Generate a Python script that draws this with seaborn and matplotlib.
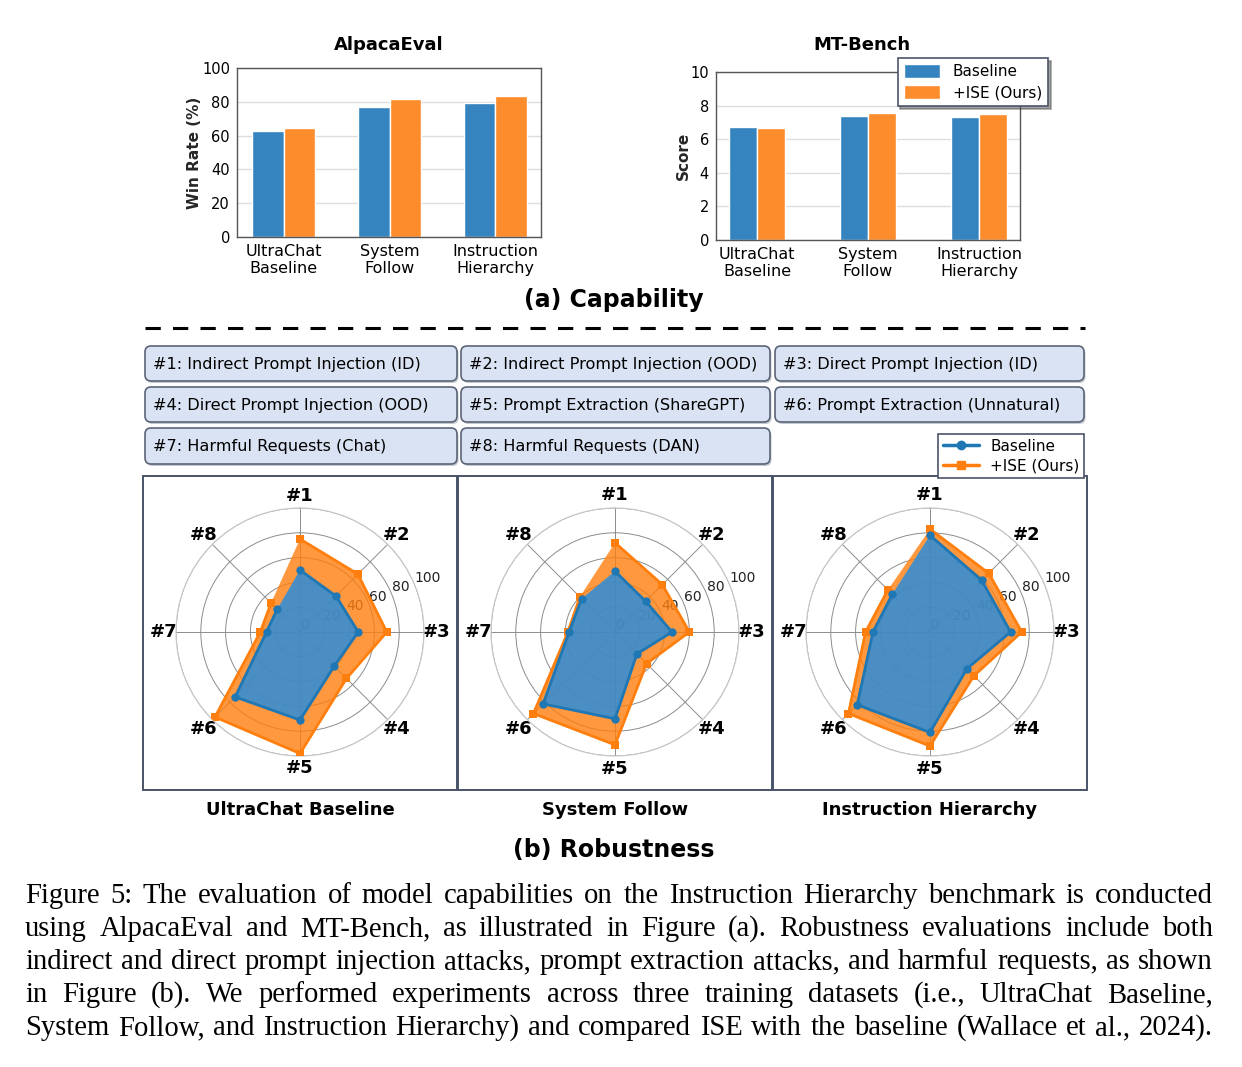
import matplotlib
matplotlib.use("Agg")
import matplotlib.pyplot as plt
import numpy as np
import pandas as pd
import seaborn as sns
from matplotlib.patches import FancyBboxPatch, Rectangle

W, H = 1242, 1067

# ---- data -------------------------------------------------------------
datasets = ["UltraChat\nBaseline", "System\nFollow", "Instruction\nHierarchy"]
methods = ["Baseline", "+ISE (Ours)"]

alpaca_baseline = [63.0, 77.2, 79.2]
alpaca_ise = [64.6, 81.8, 83.2]
mtbench_baseline = [6.75, 7.40, 7.30]
mtbench_ise = [6.65, 7.55, 7.50]

attack_ids = ["#1", "#2", "#3", "#4", "#5", "#6", "#7", "#8"]
attack_names = [
    "#1: Indirect Prompt Injection (ID)",
    "#2: Indirect Prompt Injection (OOD)",
    "#3: Direct Prompt Injection (ID)",
    "#4: Direct Prompt Injection (OOD)",
    "#5: Prompt Extraction (ShareGPT)",
    "#6: Prompt Extraction (Unnatural)",
    "#7: Harmful Requests (Chat)",
    "#8: Harmful Requests (DAN)",
]

panel_titles = ["UltraChat Baseline", "System Follow", "Instruction Hierarchy"]
ultrachat_base = [50, 41, 47, 39, 71, 74, 27, 26]
ultrachat_ise = [75, 66, 70, 53, 98, 97, 32, 33]
sysfollow_base = [49, 35, 46, 25, 70, 82, 37, 38]
sysfollow_ise = [72, 54, 60, 36, 91, 93, 38, 40]
insthier_base = [78, 59, 65, 42, 81, 83, 46, 43]
insthier_ise = [83, 67, 74, 50, 92, 93, 52, 48]

caption_lines = [
    "Figure 5: The evaluation of model capabilities on the Instruction Hierarchy benchmark is conducted",
    "using AlpacaEval and MT-Bench, as illustrated in Figure (a). Robustness evaluations include both",
    "indirect and direct prompt injection attacks, prompt extraction attacks, and harmful requests, as shown",
    "in Figure (b).  We performed experiments across three training datasets (i.e., UltraChat Baseline,",
    "System Follow, and Instruction Hierarchy) and compared ISE with the baseline (Wallace et al., 2024).",
]

# ---- style ------------------------------------------------------------
BAR_BLUE = "#3584bf"
BAR_ORANGE = "#fd8c2c"
LINE_BLUE = "#1f77b4"
LINE_ORANGE = "#ff7f0e"
BOX_FILL = "#dae3f3"
BOX_EDGE = "#5b6577"
FRAME = "#4a5468"

sns.set_theme(style="white")
plt.rcParams.update({
    "font.family": ["DejaVu Sans"],
    "axes.edgecolor": "#555555",
    "text.color": "black",
    "xtick.color": "black",
    "ytick.color": "black",
})


def frac(l, t, r, b):
    return [l / W, 1 - b / H, (r - l) / W, (b - t) / H]


fig = plt.figure(figsize=(W / 100, H / 100), dpi=100)

# full-figure overlay in pixel units for boxes, headings and caption
bg = fig.add_axes([0, 0, 1, 1])
bg.set_xlim(0, W)
bg.set_ylim(H, 0)
bg.axis("off")


# ---- (a) capability bar charts ---------------------------------------
def bar_panel(rect, base, ise, ylabel, ymax, step, width, xlim, legend):
    ax = fig.add_axes(frac(*rect))
    df = pd.DataFrame({
        "Dataset": datasets * 2,
        "Method": [methods[0]] * 3 + [methods[1]] * 3,
        "Value": base + ise,
    })
    sns.barplot(data=df, x="Dataset", y="Value", hue="Method",
                palette=[BAR_BLUE, BAR_ORANGE], width=width, saturation=1,
                errorbar=None, legend=legend, ax=ax, zorder=2)
    ax.set_ylim(0, ymax)
    ax.set_yticks(np.arange(0, ymax + 0.01, step))
    ax.set_xlim(*xlim)
    ax.yaxis.grid(True, color="#dddddd", lw=1, zorder=0)
    ax.set_axisbelow(True)
    ax.set_xlabel("")
    ax.set_ylabel(ylabel, fontsize=11, fontweight="bold", labelpad=0)
    ax.tick_params(axis="both", length=3, color="#555555")
    ax.tick_params(axis="y", labelsize=10.5, pad=2)
    ax.tick_params(axis="x", labelsize=11.5, pad=2)
    for s in ax.spines.values():
        s.set_color("#555555")
        s.set_linewidth(1)
    return ax


bar_panel((237, 68, 541, 237), alpaca_baseline, alpaca_ise,
          "Win Rate (%)", 100, 20, 0.6, (-0.44, 2.43), False)
ax_mt = bar_panel((716, 72, 1020, 240), mtbench_baseline, mtbench_ise,
                  "Score", 10, 2, 0.5, (-0.37, 2.37), True)
bg.text(389, 45, "AlpacaEval", ha="center", va="center", fontsize=13, fontweight="bold")
bg.text(862, 45, "MT-Bench", ha="center", va="center", fontsize=13, fontweight="bold")

leg = ax_mt.legend(loc="upper right", bbox_to_anchor=(1048 / W, 1 - 58 / H),
                   bbox_transform=fig.transFigure, borderaxespad=0,
                   fontsize=11, frameon=True, fancybox=False, shadow=True,
                   handlelength=2.4, handleheight=1.0, labelspacing=0.4)
leg.get_frame().set_edgecolor(FRAME)
leg.get_frame().set_linewidth(1.2)

bg.text(614, 300, "(a) Capability", ha="center", va="center",
        fontsize=17, fontweight="bold")
bg.plot([145, 1085], [328, 328], color="black", lw=2.2, dashes=[5, 4])

# ---- attack legend boxes ---------------------------------------------
col_x = [(145, 457), (461, 770), (775, 1084)]
row_y = [(346, 381), (387, 422), (428, 464)]
for i, name in enumerate(attack_names):
    r, c = divmod(i, 3)
    x0, x1 = col_x[c]
    y0, y1 = row_y[r]
    shadow = FancyBboxPatch((x0 + 1.5, y0 + 2), x1 - x0, y1 - y0,
                            boxstyle="round,pad=0,rounding_size=6",
                            facecolor="#8a93a6", edgecolor="none", alpha=0.5)
    box = FancyBboxPatch((x0, y0), x1 - x0, y1 - y0,
                         boxstyle="round,pad=0,rounding_size=6",
                         facecolor=BOX_FILL, edgecolor=BOX_EDGE, lw=1.2)
    bg.add_patch(shadow)
    bg.add_patch(box)
    bg.text(x0 + 8, (y0 + y1) / 2 + 1, name, ha="left", va="center", fontsize=11.6)

# ---- (b) robustness radar charts -------------------------------------
angles = np.linspace(0, 2 * np.pi, len(attack_ids), endpoint=False)
closed_angles = np.append(angles, angles[0])

radar_sets = [
    (ultrachat_base, ultrachat_ise),
    (sysfollow_base, sysfollow_ise),
    (insthier_base, insthier_ise),
]
panel_x = [(143, 457), (458, 772), (773, 1087)]
center_x = [300, 615, 930]
cy, rad = 632, 124

for k, (base, ise) in enumerate(radar_sets):
    px0, px1 = panel_x[k]
    bg.add_patch(Rectangle((px0, 476), px1 - px0, 790 - 476, facecolor="white",
                           edgecolor=FRAME, lw=1.4))
    cx = center_x[k]
    ax = fig.add_axes(frac(cx - rad, cy - rad, cx + rad, cy + rad), projection="polar")
    ax.set_theta_offset(np.pi / 2)
    ax.set_theta_direction(-1)
    ax.set_facecolor("none")

    base_c = np.append(base, base[0])
    ise_c = np.append(ise, ise[0])
    ax.fill(closed_angles, ise_c, color=LINE_ORANGE, alpha=0.8, lw=0, zorder=3)
    ax.fill(closed_angles, base_c, color="#1d8ce6", alpha=0.8, lw=0, zorder=3.1)
    sns.lineplot(x=closed_angles, y=ise_c, sort=False, color=LINE_ORANGE, lw=2,
                 marker="s", markersize=6, markeredgewidth=0, ax=ax, zorder=4)
    sns.lineplot(x=closed_angles, y=base_c, sort=False, color=LINE_BLUE, lw=2,
                 marker="o", markersize=6, markeredgewidth=0, ax=ax, zorder=4.1)

    ax.set_ylim(0, 100)
    ax.set_yticks([0, 20, 40, 60, 80, 100])
    ax.set_yticklabels(["0", "20", "40", "60", "80", "100"], fontsize=10, color="#222222")
    ax.set_rlabel_position(67.5)
    ax.set_xticks(angles)
    ax.set_xticklabels(attack_ids, fontsize=13, fontweight="bold")
    ax.tick_params(axis="x", pad=-4)
    ax.grid(True, color="#8c8c8c", lw=0.7)
    ax.spines["polar"].set_color("#c8c8c8")
    ax.spines["polar"].set_linewidth(0.8)
    ax.set_xlabel("")
    ax.set_ylabel("")

    bg.text(cx, 810, panel_titles[k], ha="center", va="center",
            fontsize=13, fontweight="bold")

radar_handles = [
    plt.Line2D([], [], color=LINE_BLUE, lw=2.5, marker="o", markersize=6),
    plt.Line2D([], [], color=LINE_ORANGE, lw=2.5, marker="s", markersize=6),
]
rleg = fig.legend(radar_handles, methods, loc="upper right",
                  bbox_to_anchor=(1084 / W, 1 - 434 / H), borderaxespad=0,
                  fontsize=11, fancybox=False, shadow=False, framealpha=1,
                  handlelength=2.4, handletextpad=0.7, labelspacing=0.3,
                  borderpad=0.3)
rleg.get_frame().set_edgecolor(FRAME)
rleg.get_frame().set_linewidth(1.2)

bg.text(614, 850, "(b) Robustness", ha="center", va="center",
        fontsize=17, fontweight="bold")

# ---- caption (justified word by word) --------------------------------
renderer = fig.canvas.get_renderer()
cap_x0, cap_x1 = 25, 1213
for i, line in enumerate(caption_lines):
    y = 903 + 33 * i
    words = line.split()
    texts = [bg.text(0, y, w, ha="left", va="baseline", fontsize=20.6,
                     family="Liberation Serif") for w in words]
    widths = [t.get_window_extent(renderer=renderer).width for t in texts]
    gap = (cap_x1 - cap_x0 - sum(widths)) / (len(words) - 1)
    x = cap_x0
    for t, w in zip(texts, widths):
        t.set_x(x)
        x += w + gap

fig.savefig("out.png", dpi=100)
